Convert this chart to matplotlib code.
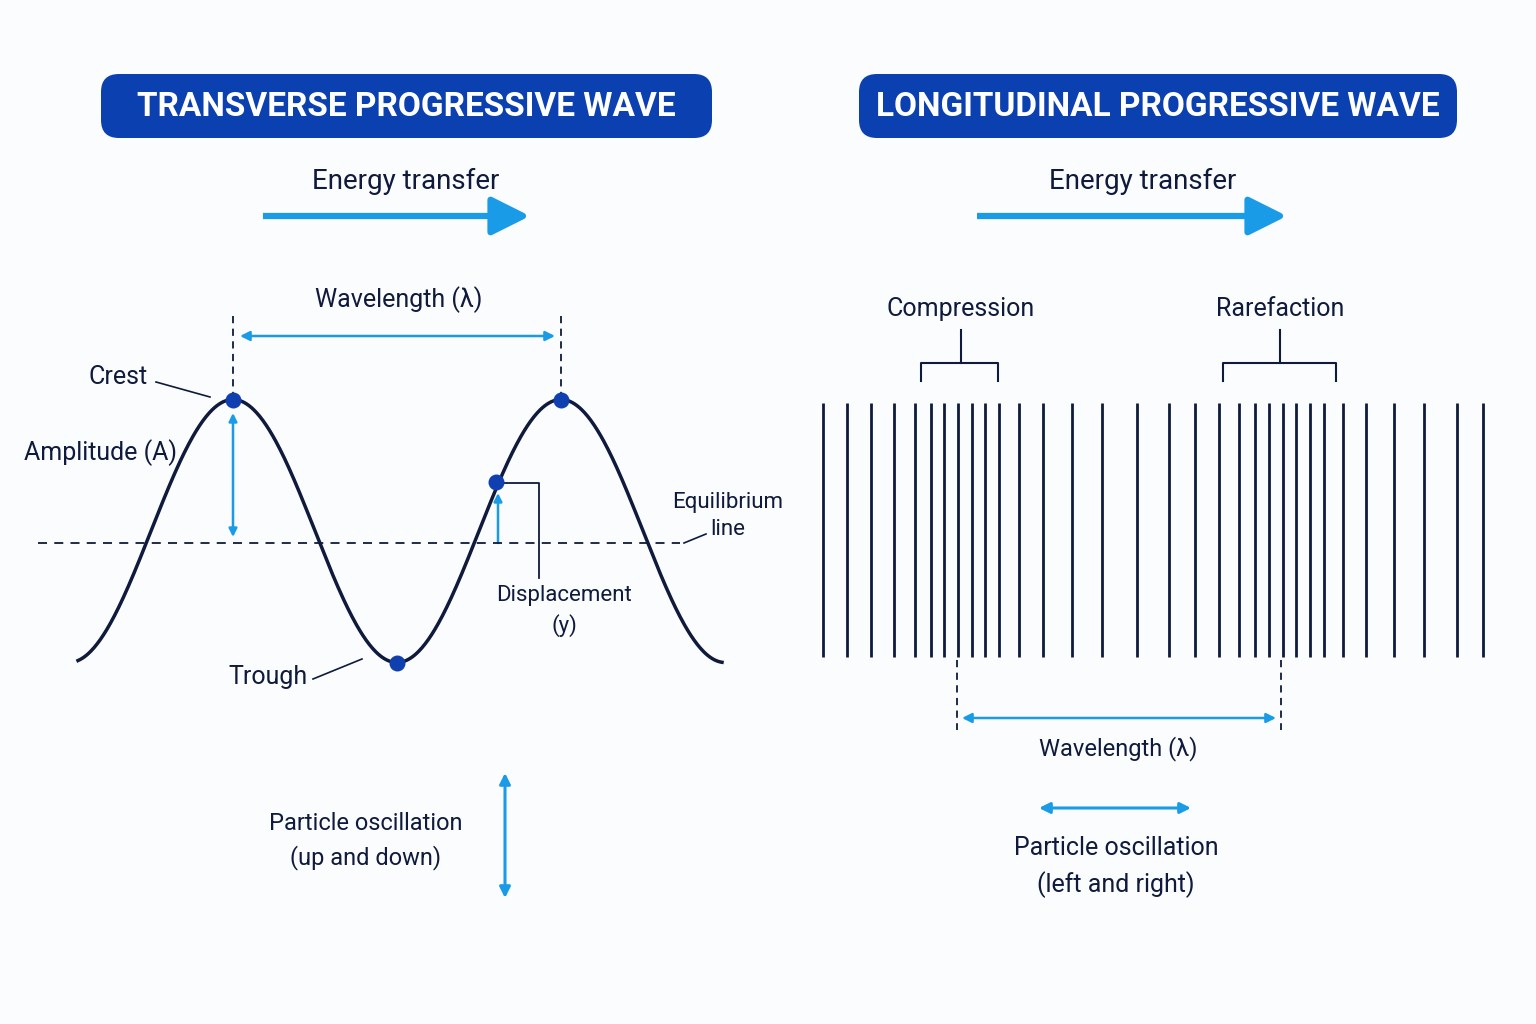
import numpy as np
import matplotlib
matplotlib.use("Agg")
import matplotlib.pyplot as plt
from matplotlib.patches import FancyBboxPatch, FancyArrowPatch

titles = ["TRANSVERSE PROGRESSIVE WAVE", "LONGITUDINAL PROGRESSIVE WAVE"]
line_x = [823, 847, 871, 894, 915, 931, 944, 958, 972, 985, 999, 1019, 1043, 1072,
          1102, 1137, 1169, 1195, 1219, 1239, 1255, 1269, 1283, 1296, 1310, 1324,
          1343, 1366, 1394, 1424, 1457, 1483]

BLUE = "#1a9be8"
NAVY = "#0f1a3c"
DOT = "#1040b0"
FONT = ["Roboto", "DejaVu Sans"]

fig = plt.figure(figsize=(15.36, 10.24), dpi=100)
ax = fig.add_axes([0, 0, 1, 1])
ax.set_xlim(0, 1536); ax.set_ylim(1024, 0); ax.axis("off")
fig.patch.set_facecolor("#fbfcfd")

def arrow(x1, y1, x2, y2, both=False, lw=2.2, ms=18, style=None):
    st = style or ("<|-|>" if both else "-|>")
    ax.add_patch(FancyArrowPatch((x1, y1), (x2, y2), arrowstyle=st, mutation_scale=ms,
                                 color=BLUE, lw=lw, shrinkA=0, shrinkB=0))

# title boxes
for (x0, x1), t in zip([(101, 712), (859, 1457)], titles):
    ax.add_patch(FancyBboxPatch((x0, 74), x1 - x0, 64, boxstyle="round,pad=0,rounding_size=18",
                                fc="#0b40b0", ec="none"))
    ax.text((x0 + x1) / 2, 107, t, color="white", fontsize=24, fontweight="bold",
            ha="center", va="center", family=FONT)

# energy transfer
for xc, x0, x1 in [(406, 263, 530), (1143, 977, 1287)]:
    ax.text(xc, 181, "Energy transfer", fontsize=20, ha="center", va="center", color=NAVY, family=FONT)
    ax.add_patch(FancyArrowPatch((x0, 216), (x1, 216), arrowstyle="-|>,head_width=0.45,head_length=0.9",
                                 mutation_scale=26, color=BLUE, lw=4.5, shrinkA=0, shrinkB=0,
                                 capstyle="butt"))

# transverse wave
xs = np.linspace(78, 722, 600)
yc, A, lam = 531, 131.5, 328
ys = yc - A * np.cos(2 * np.pi * (xs - 233) / lam)
ax.plot(xs, ys, color=NAVY, lw=2.5)
ax.plot([38, 680], [543, 543], ls=(0, (5, 4)), color=NAVY, lw=1.3)
ax.plot([684, 706], [543, 534], color=NAVY, lw=1.2)
for x in (233, 561):
    ax.plot([x, x], [316, 398], ls=(0, (4, 3)), color=NAVY, lw=1.3)
arrow(240, 336, 555, 336, both=True, lw=1.8, ms=14)
ax.text(399, 300, "Wavelength (λ)", fontsize=18, ha="center", va="center", color=NAVY, family=FONT)
ax.scatter([233, 561, 397, 496], [400, 400, 663, 482], s=110, color=DOT, zorder=5)
ax.text(118, 377, "Crest", fontsize=18, ha="center", va="center", color=NAVY, family=FONT)
ax.plot([156, 210], [382, 397], color=NAVY, lw=1.2)
arrow(233, 413, 233, 537, both=True, lw=1.8, ms=12)
ax.text(100, 453, "Amplitude (A)", fontsize=18, ha="center", va="center", color=NAVY, family=FONT)
ax.text(268, 677, "Trough", fontsize=18, ha="center", va="center", color=NAVY, family=FONT)
ax.plot([313, 362], [679, 659], color=NAVY, lw=1.2)
arrow(498, 543, 498, 493, lw=1.8, ms=12)
ax.plot([504, 539, 539], [483, 483, 578], color=NAVY, lw=1.3)
ax.text(564, 611, "Displacement\n(y)", fontsize=16, ha="center", va="center", color=NAVY,
        family=FONT, linespacing=1.5)
ax.text(728, 516, "Equilibrium\nline", fontsize=16, ha="center", va="center", color=NAVY,
        family=FONT, linespacing=1.4)
arrow(505, 773, 505, 898, both=True, lw=2.2, ms=16)
ax.text(366, 841, "Particle oscillation\n(up and down)", fontsize=17, ha="center", va="center",
        color=NAVY, family=FONT, linespacing=1.5)

# longitudinal wave
ax.vlines(line_x, 403, 657, color=NAVY, lw=2)
for xc, x0, x1, lbl in [(961, 921, 998, "Compression"), (1280, 1223, 1336, "Rarefaction")]:
    ax.text(xc, 309, lbl, fontsize=18, ha="center", va="center", color=NAVY, family=FONT)
    ax.plot([x0, x0, x1, x1], [381, 363, 363, 381], color=NAVY, lw=1.5)
    ax.plot([xc, xc], [330, 363], color=NAVY, lw=1.5)
for x in (957, 1281):
    ax.plot([x, x], [660, 730], ls=(0, (4, 3)), color=NAVY, lw=1.3)
arrow(962, 718, 1276, 718, both=True, lw=1.8, ms=14)
ax.text(1118, 749, "Wavelength (λ)", fontsize=17, ha="center", va="center", color=NAVY, family=FONT)
arrow(1039, 808, 1191, 808, both=True, lw=2.2, ms=16)
ax.text(1116, 867, "Particle oscillation\n(left and right)", fontsize=18, ha="center", va="center",
        color=NAVY, family=FONT, linespacing=1.5)

fig.savefig("out.png", dpi=100, facecolor=fig.get_facecolor())
